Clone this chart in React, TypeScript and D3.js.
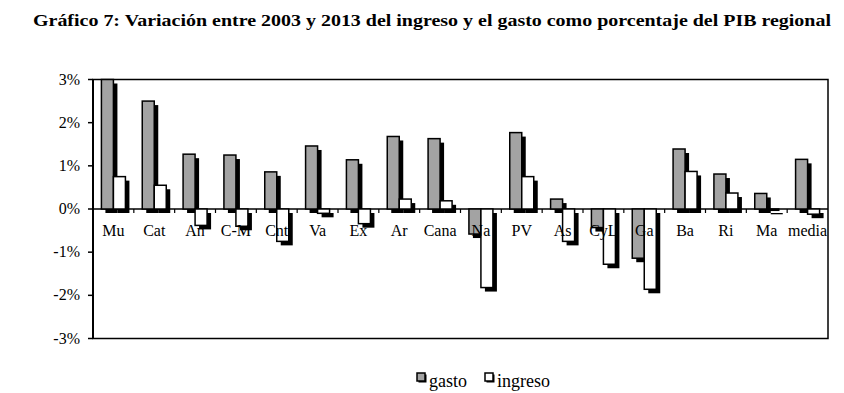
import React from 'react';
import * as d3 from 'd3';

// regions, as labelled in the picture
const regions = ["Mu", "Cat", "An", "C-M", "Cnt", "Va", "Ex", "Ar", "Cana", "Na", "PV", "As", "CyL", "Ga", "Ba", "Ri", "Ma", "media"];
// change 2003-2013, % of regional GDP
const gasto = [3.0, 2.5, 1.27, 1.25, 0.86, 1.46, 1.14, 1.68, 1.63, -0.58, 1.77, 0.23, -0.43, -1.14, 1.39, 0.81, 0.36, 1.15];
const ingreso = [0.75, 0.55, -0.38, -0.4, -0.75, -0.1, -0.34, 0.23, 0.19, -1.82, 0.75, -0.75, -1.28, -1.86, 0.87, 0.37, -0.03, -0.12];
const yTicks = [3, 2, 1, 0, -1, -2, -3];
const seriesNames = ["gasto", "ingreso"];
const fills: Record<string, string> = { gasto: "#a3a3a3", ingreso: "#ffffff" };

const W = 844;
const H = 393;
const plot = { left: 93, right: 828, top: 79.5, bottom: 338.5 };
const serif = "'Liberation Serif', 'Times New Roman', serif";

export default function App() {
  const x = d3.scaleBand<string>().domain(regions).range([plot.left, plot.right]);
  const y = d3.scaleLinear().domain([-3, 3]).range([plot.bottom, plot.top]);
  const barW = 12;
  const x1 = d3.scaleBand<string>().domain(seriesNames).range([0, barW * 2]);
  const shadow = 4;

  const bars = regions.flatMap((r, i) => [
    { region: r, key: "gasto", value: gasto[i] },
    { region: r, key: "ingreso", value: ingreso[i] },
  ]);
  const bx = (d: { region: string; key: string }) =>
    (x(d.region) as number) + x.bandwidth() / 2 - barW + (x1(d.key) as number);
  const by = (v: number) => Math.min(y(v), y(0));
  const bh = (v: number) => Math.abs(y(v) - y(0));

  return (
    <svg width={W} height={H} style={{ display: 'block', position: 'absolute', left: 0, top: 0 }}>
      <rect width={W} height={H} fill="#fff" />
      <text x={33} y={26} fontFamily={serif} fontWeight="bold" fontSize={17}
        textLength={798} lengthAdjust="spacingAndGlyphs">
        Gráfico 7: Variación entre 2003 y 2013 del ingreso y el gasto como porcentaje del PIB regional
      </text>

      {/* frame */}
      <rect x={plot.left} y={plot.top} width={plot.right - plot.left} height={plot.bottom - plot.top}
        fill="none" stroke="#000" strokeWidth={1.5} />
      <line x1={plot.left} x2={plot.left} y1={plot.top} y2={plot.bottom} stroke="#000" strokeWidth={2} />

      {/* y axis */}
      {yTicks.map(t => (
        <g key={t}>
          <line x1={plot.left - 5} x2={plot.left} y1={y(t)} y2={y(t)} stroke="#000" strokeWidth={1.5} />
          <text x={80} y={y(t) + 5} textAnchor="end" fontFamily={serif} fontSize={16}>{t}%</text>
        </g>
      ))}

      {/* zero line and ticks */}
      <line x1={plot.left} x2={plot.right} y1={y(0)} y2={y(0)} stroke="#000" strokeWidth={1.5} />
      {regions.slice(1).map(r => (
        <line key={r} x1={x(r)} x2={x(r)} y1={y(0)} y2={y(0) + 4} stroke="#000" strokeWidth={1.2} />
      ))}

      {/* shadows */}
      {bars.map(d => (
        <rect key={"s" + d.region + d.key} x={bx(d) + shadow} y={by(d.value) + shadow}
          width={barW} height={bh(d.value)} fill="#000" />
      ))}
      {/* bars */}
      {bars.map(d => (
        <rect key={d.region + d.key} x={bx(d)} y={by(d.value)} width={barW} height={bh(d.value)}
          fill={fills[d.key]} stroke="#000" strokeWidth={1.5} />
      ))}

      {/* category labels, on top of the bars */}
      {regions.map(r => (
        <text key={r} x={(x(r) as number) + x.bandwidth() / 2} y={y(0) + 27} textAnchor="middle"
          fontFamily={serif} fontSize={16}>{r}</text>
      ))}

      {/* legend */}
      {seriesNames.map((s, i) => {
        const lx = 417 + i * 68;
        return (
          <g key={s}>
            <rect x={lx + 1.5} y={374.5} width={8} height={8} fill="#000" />
            <rect x={lx} y={373} width={8} height={8} fill={fills[s]} stroke="#000" strokeWidth={1.5} />
            <text x={lx + 12} y={387} fontFamily={serif} fontSize={18}>{s}</text>
          </g>
        );
      })}
    </svg>
  );
}
